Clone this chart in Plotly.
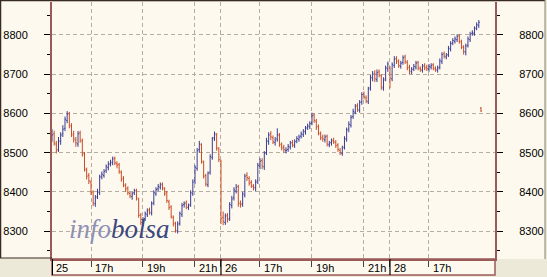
import plotly.graph_objects as go

# ---- data (Dow Jones style intraday, 5-minute bars) ----
day_labels = ["25", "26", "28"]
day_offsets = [0.0, 6.5, 13.0]          # session hours elapsed at each day start
session_start_hour = 15.5               # 15:30

open_25 = [8535,8548,8522,8508,8528,8548,8562,8582,8600,8568,
           8548,8532,8522,8550,8530,8498,8455,8442,8425,8400,
           8370,8388,8398,8440,8442,8455,8462,8472,8474,8486,
           8472,8470,8450,8435,8416,8410,8396,8388,8398,8404,
           8382,8342,8320,8332,8342,8355,8346,8372,8395,8408,
           8412,8420,8408,8398,8375,8362,8335,8320,8300,8320,
           8342,8368,8372,8360,8368,8395,8428,8460,8508,8520,
           8475,8442,8418,8450,8488,8538,8545,8510]
high_25 = [8560,8556,8530,8540,8552,8570,8592,8606,8604,8575,
           8556,8540,8555,8556,8536,8502,8462,8448,8430,8404,
           8392,8408,8444,8452,8458,8470,8478,8482,8490,8490,
           8478,8474,8455,8440,8422,8414,8400,8400,8408,8408,
           8385,8346,8336,8350,8358,8360,8376,8404,8412,8420,
           8424,8424,8412,8402,8380,8366,8340,8324,8325,8350,
           8372,8376,8378,8370,8404,8432,8468,8512,8530,8524,
           8480,8446,8452,8496,8540,8554,8550,8514]
low_25 = [8528,8518,8498,8502,8520,8540,8555,8575,8562,8540,
          8526,8515,8515,8525,8490,8452,8432,8420,8392,8364,
          8362,8382,8392,8432,8436,8448,8455,8465,8468,8468,
          8460,8446,8426,8412,8400,8392,8384,8380,8392,8378,
          8334,8316,8314,8326,8336,8342,8340,8366,8390,8402,
          8406,8404,8390,8372,8354,8332,8312,8296,8294,8314,
          8336,8360,8356,8354,8362,8390,8420,8454,8500,8472,
          8434,8414,8412,8444,8482,8530,8505,8476]
close_25 = [8545,8525,8505,8530,8545,8560,8585,8598,8570,8545,
            8535,8525,8548,8532,8495,8458,8440,8428,8398,8372,
            8385,8400,8438,8445,8452,8465,8470,8476,8484,8474,
            8468,8452,8432,8418,8408,8398,8390,8395,8402,8385,
            8340,8322,8330,8345,8352,8348,8370,8398,8406,8414,
            8418,8410,8395,8378,8360,8338,8318,8302,8318,8345,
            8365,8370,8362,8365,8398,8425,8462,8505,8522,8478,
            8440,8420,8448,8490,8535,8548,8512,8482]

open_26 = [8478,8335,8322,8340,8332,8365,8385,8402,8414,8370,
           8370,8392,8442,8434,8424,8414,8410,8428,8465,8480,
           8464,8500,8528,8548,8538,8526,8535,8544,8520,8514,
           8505,8508,8514,8526,8518,8530,8534,8542,8546,8553,
           8564,8566,8576,8596,8580,8567,8548,8540,8533,8542,
           8520,8526,8532,8526,8520,8506,8498,8514,8534,8560,
           8570,8592,8603,8620,8608,8630,8650,8640,8630,8665,
           8690,8702,8686,8706,8696,8665,8688,8714]
high_26 = [8482,8350,8345,8346,8374,8390,8412,8420,8418,8378,
           8400,8446,8450,8440,8430,8420,8432,8474,8486,8486,
           8504,8538,8552,8555,8544,8540,8562,8550,8526,8520,
           8514,8522,8530,8532,8534,8542,8546,8554,8560,8568,
           8574,8580,8602,8600,8586,8572,8554,8546,8546,8546,
           8530,8536,8538,8532,8524,8512,8518,8542,8564,8580,
           8596,8612,8624,8626,8634,8654,8656,8646,8668,8698,
           8708,8710,8712,8712,8700,8692,8722,8732]
low_26 = [8318,8315,8316,8322,8326,8358,8378,8396,8362,8360,
          8362,8386,8428,8416,8410,8404,8402,8420,8458,8458,
          8456,8494,8520,8532,8522,8518,8528,8515,8506,8500,
          8498,8502,8508,8514,8512,8524,8528,8536,8540,8546,
          8558,8560,8570,8576,8558,8544,8532,8528,8526,8516,
          8514,8518,8522,8512,8502,8494,8492,8508,8528,8552,
          8564,8586,8598,8604,8602,8622,8636,8626,8624,8658,
          8682,8680,8680,8692,8660,8658,8682,8706]
close_26 = [8332,8325,8338,8330,8368,8382,8405,8412,8372,8368,
            8395,8440,8436,8422,8416,8412,8425,8468,8478,8466,
            8498,8530,8545,8540,8528,8532,8546,8522,8512,8508,
            8506,8516,8524,8520,8528,8536,8540,8548,8555,8562,
            8568,8574,8594,8582,8565,8550,8538,8535,8540,8522,
            8524,8530,8528,8518,8508,8500,8512,8536,8558,8572,
            8590,8605,8618,8610,8628,8648,8642,8632,8662,8692,
            8700,8688,8704,8698,8668,8685,8716,8726]

open_28 = [8715,8688,8722,8740,8732,8720,8730,8744,8730,8718,
           8706,8714,8718,8730,8714,8710,8722,8718,8712,8718,
           8724,8714,8710,8718,8732,8752,8744,8750,8764,8780,
           8784,8788,8798,8782,8768,8756,8774,8788,8804,8804,
           8818,8824]
high_28 = [8720,8730,8746,8746,8738,8734,8748,8750,8736,8724,
           8718,8726,8734,8734,8720,8726,8728,8724,8726,8728,
           8728,8720,8722,8740,8756,8758,8754,8772,8784,8792,
           8796,8802,8802,8788,8774,8778,8796,8808,8812,8822,
           8832,8838]
low_28 = [8664,8682,8716,8726,8716,8714,8724,8726,8710,8700,
          8700,8708,8712,8710,8706,8704,8710,8708,8706,8712,
          8710,8706,8704,8712,8726,8740,8738,8744,8758,8774,
          8778,8782,8778,8764,8750,8748,8768,8782,8798,8798,
          8812,8818]
close_28 = [8690,8725,8738,8734,8722,8728,8742,8732,8716,8708,
            8712,8720,8728,8716,8712,8720,8716,8714,8720,8722,
            8716,8712,8716,8734,8750,8746,8748,8766,8778,8786,
            8790,8796,8784,8770,8758,8772,8790,8802,8806,8816,
            8826,8832]

# odd last tick printed at 19:00 on the 28th
last_time_28 = "19:00"
last_open, last_high, last_low, last_close = [8614], [8616], [8604], [8606]

tick_vals = [0, 1.5, 3.5, 5.5, 6.5, 8, 10, 12, 13, 14.5]
tick_text = ["25", "17h", "19h", "21h", "26", "17h", "19h", "21h", "28", "17h"]
day_tick_vals = [0, 6.5, 13]

y_range = [8229, 8884]
x_range = [0, 17.04]

# ---- build bar times (session hours) ----
bar_minutes = 5
xs, os_, hs, ls, cs = [], [], [], [], []
for off, o, h, l, c in [(day_offsets[0], open_25, high_25, low_25, close_25),
                        (day_offsets[1], open_26, high_26, low_26, close_26),
                        (day_offsets[2], open_28, high_28, low_28, close_28)]:
    for i in range(len(c)):
        xs.append(off + i * bar_minutes / 60.0)
    os_ += o; hs += h; ls += l; cs += c
hh, mm = map(int, last_time_28.split(":"))
xs.append(day_offsets[2] + hh + mm / 60.0 - session_start_hour)
os_ += last_open; hs += last_high; ls += last_low; cs += last_close

W, H = 547, 277
ML, MR, MT, MB = 52, 52, 2, 18
pw, ph = W - ML - MR, H - MT - MB

def px(xp):
    return (xp - ML) / pw

def py(yp):
    return (H - MB - yp) / ph

BLUE = "#3a3c94"
RED = "#c84c28"
BROWN = "#9a5a58"
CREAM = "#fdf9ee"
GRID = "#b4aea0"

fig = go.Figure()
fig.add_trace(go.Ohlc(
    x=xs, open=os_, high=hs, low=ls, close=cs,
    increasing=dict(line=dict(color=BLUE, width=1)),
    decreasing=dict(line=dict(color=RED, width=1)),
    tickwidth=0.45, showlegend=False, hoverinfo="skip"))
fig.add_trace(go.Scatter(x=[None], y=[None], yaxis="y2", showlegend=False,
                         hoverinfo="skip"))

axis_font = dict(family="Liberation Sans, Arial, sans-serif", size=11, color="#000000")

shapes = []
# cream side panels and label strip
shapes.append(dict(type="rect", xref="paper", yref="paper", x0=px(0), x1=px(ML),
                   y0=py(258), y1=py(0), fillcolor=CREAM, line=dict(width=0), layer="below"))
shapes.append(dict(type="rect", xref="paper", yref="paper", x0=px(W - MR), x1=px(545),
                   y0=py(259), y1=py(0), fillcolor=CREAM, line=dict(width=0), layer="below"))
shapes.append(dict(type="rect", xref="paper", yref="paper", x0=px(ML), x1=px(W - MR),
                   y0=py(275), y1=py(259), fillcolor=CREAM,
                   line=dict(color=BROWN, width=1.5), layer="below"))
# outer dark frame (top and left)
shapes.append(dict(type="line", xref="paper", yref="paper", x0=px(0.5), x1=px(0.5),
                   y0=py(258), y1=py(0), line=dict(color="#3a2a26", width=1.5)))
shapes.append(dict(type="line", xref="paper", yref="paper", x0=px(0), x1=px(545),
                   y0=py(0.5), y1=py(0.5), line=dict(color="#3a2a26", width=1.5)))
shapes.append(dict(type="line", xref="paper", yref="paper", x0=px(0), x1=px(ML),
                   y0=py(258), y1=py(258), line=dict(color="#3a2a26", width=1)))
shapes.append(dict(type="line", xref="paper", yref="paper", x0=px(545), x1=px(545),
                   y0=py(259), y1=py(0), line=dict(color="#8a8070", width=1)))
# day separators in label strip
for i, dv in enumerate(day_tick_vals):
    shapes.append(dict(type="line", xref="x", yref="paper", x0=dv, x1=dv,
                       y0=py(259), y1=py(275),
                       line=dict(color="#000000", width=2 if i == 0 else 1.2)))

annotations = []
for tv, tt in zip(tick_vals, tick_text):
    annotations.append(dict(x=tv, y=py(267.5), xref="x", yref="paper", text=tt,
                            showarrow=False, xanchor="left", yanchor="middle",
                            xshift=2, font=axis_font))
annotations.append(dict(
    x=px(67), y=py(229), xref="paper", yref="paper", showarrow=False,
    xanchor="left", yanchor="middle",
    text='<i><span style="color:#8e90b6">info</span><span style="color:#3b4880">bolsa</span></i>',
    font=dict(family="Liberation Serif, Times New Roman, serif", size=27)))

fig.update_layout(
    width=W, height=H,
    margin=dict(l=ML, r=MR, t=MT, b=MB, pad=0),
    paper_bgcolor="#ece9d8", plot_bgcolor=CREAM,
    xaxis=dict(range=x_range, tickvals=tick_vals, ticktext=[""] * len(tick_vals),
               ticks="outside", ticklen=6, tickcolor="#444444", tickwidth=1,
               showgrid=True, gridcolor=GRID, griddash="4px,3px", gridwidth=1,
               showline=True, linecolor=BROWN, linewidth=2, mirror=False,
               zeroline=False, rangeslider=dict(visible=False), fixedrange=True),
    yaxis=dict(range=y_range, tickvals=[8300, 8400, 8500, 8600, 8700, 8800],
               ticks="outside", ticklen=6, tickcolor="#000000", tickwidth=1,
               ticklabelstandoff=14, tickfont=axis_font,
               minor=dict(dtick=50, tick0=8250, ticks="outside", ticklen=3,
                          tickcolor="#000000", showgrid=False),
               showgrid=True, gridcolor=GRID, griddash="4px,3px", gridwidth=1,
               showline=True, linecolor=BROWN, linewidth=2,
               zeroline=False, fixedrange=True),
    yaxis2=dict(range=y_range, overlaying="y", side="right",
                tickvals=[8300, 8400, 8500, 8600, 8700, 8800],
                ticks="outside", ticklen=6, tickcolor="#000000", tickwidth=1,
                ticklabelstandoff=14, tickfont=axis_font,
                minor=dict(dtick=50, tick0=8250, ticks="outside", ticklen=3,
                           tickcolor="#000000", showgrid=False),
                showgrid=False, showline=True, linecolor=BROWN, linewidth=2,
                zeroline=False, fixedrange=True),
    shapes=shapes, annotations=annotations,
    font=axis_font,
)

fig.write_html("out.html")
